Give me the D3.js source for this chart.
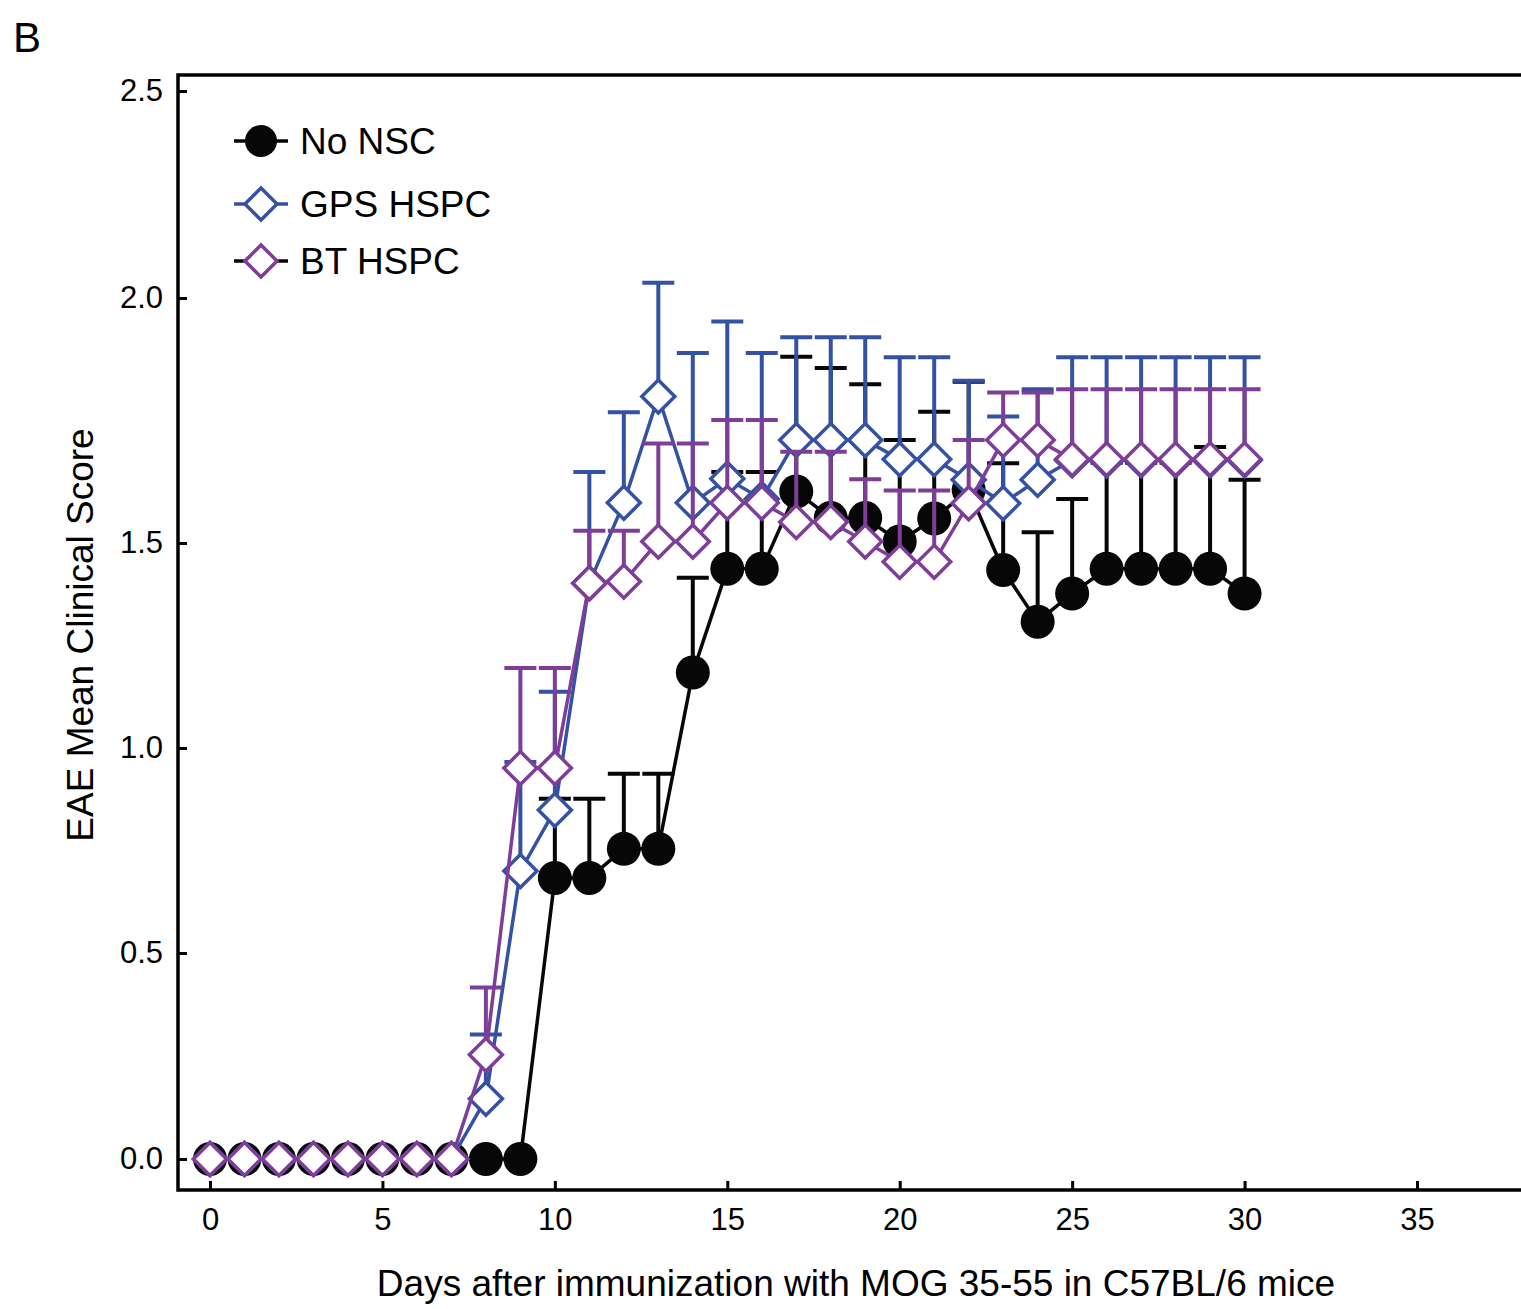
<!DOCTYPE html>
<html>
<head>
  <meta charset="utf-8">
  <title>EAE clinical score</title>
  <style>
    body { margin: 0; background: #fff; }
    text { font-family: "Liberation Sans", Arial, Helvetica, sans-serif; }
  </style>
</head>
<body>
  <div class="container"></div>

  <script src="https://d3js.org/d3.v7.min.js"></script>
  <script type="text/javascript">
    // days after immunization
    var days = [0,1,2,3,4,5,6,7,8,9,10,11,12,13,14,15,16,17,18,19,20,21,22,23,24,25,26,27,28,29,30];

    // mean clinical score per group
    var noNsc = [0,0,0,0,0,0,0,0,0,0, 0.683,0.683,0.754,0.754,1.184,1.437,1.437,1.605,1.551,1.551,
                 1.503,1.550,1.608,1.434,1.308,1.377,1.437,1.437,1.437,1.437,1.377];
    var gpsHspc = [0,0,0,0,0,0,0,0, 0.146,0.700,0.849,1.402,1.582,1.799,1.582,1.631,1.590,1.710,1.710,1.710,
                   1.671,1.671,1.629,1.581,1.629,1.669,1.669,1.669,1.669,1.669,1.669];
    var btHspc = [0,0,0,0,0,0,0,0, 0.253,0.951,0.951,1.402,1.406,1.503,1.503,1.582,1.582,1.543,1.543,1.503,
                  1.454,1.454,1.581,1.710,1.710,1.671,1.671,1.671,1.671,1.671,1.671];

    // SEM (only the upper bar is drawn), null = no bar
    var noNscSem = [null,null,null,null,null,null,null,null,null,null, 0.193,0.193,0.183,0.183,0.231,0.208,0.208,0.275,0.306,0.273,
                    0.207,0.218,0.221,0.229,0.214,0.213,0.227,0.227,0.227,0.259,0.252];
    var gpsSem = [null,null,null,null,null,null,null,null, 0.156,0.266,0.288,0.243,0.185,0.238,0.306,0.321,0.298,0.210,0.210,0.210,
                  0.208,0.208,0.202,0.177,0.185,0.210,0.210,0.210,0.210,0.210,0.210];
    var btSem = [null,null,null,null,null,null,null,null, 0.163,0.244,0.244,0.123,0.119,0.200,0.200,0.169,0.169,0.143,0.143,0.127,
                 0.153,0.153,0.129,0.097,0.097,0.143,0.143,0.143,0.143,0.143,0.143];

    var groupNames = ["No NSC", "GPS HSPC", "BT HSPC"];
    var xTicks = [0, 5, 10, 15, 20, 25, 30, 35];
    var yTicks = [0, 0.5, 1.0, 1.5, 2.0, 2.5];

    var W = 1521, H = 1309;
    // (window.top is read-only, so these get their own names)
    var plotLeft = 178, plotTop = 75, plotBottom = 1190;

    var svg = d3.select(".container")
        .append("svg")
        .attr("width", W)
        .attr("height", H);

    var xScale = d3.scaleLinear()
        .domain([0, 35])
        .range([210, 1417]);

    // tick spacing on the original axis is not even, so the scale follows the printed ticks
    var yScale = d3.scaleLinear()
        .domain(yTicks)
        .range([1159, 953, 748, 543, 298, 91]);

    var series = [
      {name: groupNames[0], mean: noNsc,   sem: noNscSem, color: "#070707", shape: "circle", legendLine: "#070707"},
      {name: groupNames[1], mean: gpsHspc, sem: gpsSem,   color: "#3551a4", shape: "diamond", legendLine: "#3551a4"},
      {name: groupNames[2], mean: btHspc,  sem: btSem,    color: "#7e3d98", shape: "diamond", legendLine: "#070707"}
    ];

    // axes
    var yAxis = d3.axisLeft(yScale)
        .tickValues(yTicks)
        .tickFormat(d3.format(".1f"))
        .tickSize(-9)
        .tickPadding(15);

    var xAxis = d3.axisBottom(xScale)
        .tickValues(xTicks)
        .tickFormat(d3.format("d"))
        .tickSize(-9)
        .tickPadding(18);

    var gy = svg.append("g")
        .attr("transform", "translate(" + plotLeft + ",0)")
        .call(yAxis);

    var gx = svg.append("g")
        .attr("transform", "translate(0," + plotBottom + ")")
        .call(xAxis);

    [gx, gy].forEach(function(g) {
      g.select(".domain").remove();
      g.selectAll(".tick line").attr("stroke", "#000").attr("stroke-width", 3);
      g.selectAll(".tick text")
        .attr("fill", "#000")
        .attr("font-size", 31)
        .attr("font-family", "Liberation Sans, Arial, sans-serif");
    });

    // frame: left, top and bottom lines run off the right edge
    svg.append("path")
        .attr("d", "M" + W + "," + plotTop + "H" + plotLeft + "V" + plotBottom + "H" + W)
        .attr("fill", "none")
        .attr("stroke", "#000")
        .attr("stroke-width", 3.5);

    var diamond = function(cx, cy, r) {
      return "M" + cx + "," + (cy - r) + "L" + (cx + r) + "," + cy + "L" + cx + "," + (cy + r) + "L" + (cx - r) + "," + cy + "Z";
    };

    var line = d3.line()
        .x(function(d) { return xScale(d.day); })
        .y(function(d) { return yScale(d.value); });

    series.forEach(function(s) {
      var pts = days.map(function(d, i) { return {day: d, value: s.mean[i], sem: s.sem[i]}; });
      var g = svg.append("g");

      // upper error bars
      var bars = pts.filter(function(d) { return d.sem !== null; });
      g.selectAll(".err")
          .data(bars)
          .enter()
          .append("path")
          .attr("d", function(d) {
            var x = xScale(d.day), y0 = yScale(d.value), y1 = yScale(d.value + d.sem);
            return "M" + x + "," + y0 + "V" + y1 + "M" + (x - 16) + "," + y1 + "H" + (x + 16);
          })
          .attr("fill", "none")
          .attr("stroke", s.color)
          .attr("stroke-width", 4);

      g.append("path")
          .datum(pts)
          .attr("d", line)
          .attr("fill", "none")
          .attr("stroke", s.color)
          .attr("stroke-width", 3.5);

      if (s.shape == "circle") {
        g.selectAll(".pt")
            .data(pts)
            .enter()
            .append("circle")
            .attr("cx", function(d) { return xScale(d.day); })
            .attr("cy", function(d) { return yScale(d.value); })
            .attr("r", 17)
            .attr("fill", s.color);
      } else {
        g.selectAll(".pt")
            .data(pts)
            .enter()
            .append("path")
            .attr("d", function(d) { return diamond(xScale(d.day), yScale(d.value), 16.5); })
            .attr("fill", "#fff")
            .attr("stroke", s.color)
            .attr("stroke-width", 3.5);
      }
    });

    // legend
    var legendY = [141, 204, 261];
    var lg = svg.append("g");
    series.forEach(function(s, i) {
      var cy = legendY[i];
      lg.append("line")
          .attr("x1", 234).attr("x2", 288)
          .attr("y1", cy).attr("y2", cy)
          .attr("stroke", s.legendLine)
          .attr("stroke-width", 3.5);
      if (s.shape == "circle") {
        lg.append("circle").attr("cx", 261).attr("cy", cy).attr("r", 16).attr("fill", s.color);
      } else {
        lg.append("path")
            .attr("d", diamond(261, cy, 16))
            .attr("fill", "#fff")
            .attr("stroke", s.color)
            .attr("stroke-width", 3.5);
      }
      lg.append("text")
          .attr("x", 300)
          .attr("y", cy + 13)
          .attr("font-size", 37)
          .attr("fill", "#000")
          .text(s.name);
    });

    // titles
    svg.append("text")
        .attr("x", 856)
        .attr("y", 1296)
        .attr("text-anchor", "middle")
        .attr("font-size", 37)
        .text("Days after immunization with MOG 35-55 in C57BL/6 mice");

    svg.append("text")
        .attr("transform", "translate(93,635) rotate(-90)")
        .attr("text-anchor", "middle")
        .attr("font-size", 37)
        .text("EAE Mean Clinical Score");

    svg.append("text")
        .attr("x", 13)
        .attr("y", 52)
        .attr("font-size", 42)
        .text("B");
  </script>
</body>
</html>
